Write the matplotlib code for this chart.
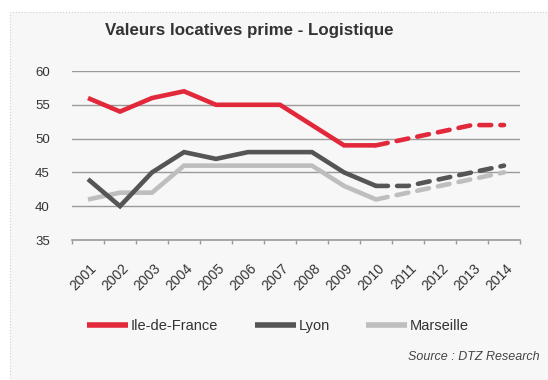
import matplotlib.pyplot as plt
from matplotlib.patches import Rectangle
import numpy as np

plt.rcParams['font.family'] = ['Liberation Sans', 'DejaVu Sans']

# Prime rents, logistics (EUR / m2 / year), 2011-2014 forecast
years = ['2001', '2002', '2003', '2004', '2005', '2006', '2007',
         '2008', '2009', '2010', '2011', '2012', '2013', '2014']
idf = [56, 54, 56, 57, 55, 55, 55, 52, 49, 49, 50, 51, 52, 52]
lyon = [44, 40, 45, 48, 47, 48, 48, 48, 45, 43, 43, 44, 45, 46]
marseille = [41, 42, 42, 46, 46, 46, 46, 46, 43, 41, 42, 43, 44, 45]
last_actual = 9  # index of 2010, forecast begins after

series = [
    ('Ile-de-France', idf, '#e2293b'),
    ('Lyon', lyon, '#555555'),
    ('Marseille', marseille, '#bebebe'),
]

fig = plt.figure(figsize=(5.48, 3.8), dpi=100)
fig.patch.set_facecolor('white')

# panel background with dotted border
panel = Rectangle((10 / 548, 0), 1, 1 - 12 / 380, transform=fig.transFigure,
                  facecolor='#f7f7f7', edgecolor='#cfcfcf', linestyle=':',
                  linewidth=0.8, zorder=-5)
fig.patches.append(panel)

ax = fig.add_axes([72 / 548, 1 - 240 / 380, 448 / 548, 169 / 380])
ax.set_zorder(2)
ax.set_facecolor('#f7f7f7')

x = np.arange(len(years))
for name, vals, color in series[::-1]:
    ax.plot(x[:last_actual + 1], vals[:last_actual + 1], color=color, lw=3.3,
            solid_capstyle='butt', solid_joinstyle='miter', zorder=3)
    ax.plot(x[last_actual:], vals[last_actual:], color=color, lw=3.3,
            dashes=(2.6, 2.0), dash_capstyle='round', zorder=3)

ax.set_xlim(-0.5, len(years) - 0.5)
ax.set_ylim(35, 60)
ax.set_yticks(range(35, 61, 5))
for yv in range(40, 61, 5):
    ax.axhline(yv, color='#9a9a9a', lw=1.0, zorder=1)

for side in ['top', 'right', 'left']:
    ax.spines[side].set_visible(False)
ax.spines['bottom'].set_color('#9a9a9a')
ax.spines['bottom'].set_linewidth(1.2)

ax.set_xticks(np.append(x - 0.5, len(years) - 0.5), minor=False)
ax.set_xticks(x + 0.05, minor=True)
ax.set_xticklabels([''] * (len(years) + 1))
ax.set_xticklabels(years, minor=True, rotation=45, ha='right', va='top',
                   rotation_mode='anchor', fontsize=10, color='#333333')
ax.tick_params(axis='x', which='major', length=3, color='#9a9a9a', width=1)
ax.tick_params(axis='x', which='minor', length=0, pad=15)
ax.tick_params(axis='y', length=0, labelsize=9.5, labelcolor='#333333',
               pad=16)

fig.text(105 / 548, 1 - 30 / 380, 'Valeurs locatives prime - Logistique',
         fontsize=12.2, fontweight='bold', color='#333333', va='center')

handles = [plt.Line2D([], [], color=c, lw=4, solid_capstyle='butt')
           for _, _, c in series]
leg = fig.legend(handles, [n for n, _, _ in series], loc='center left',
                 bbox_to_anchor=(74 / 548, 1 - 326 / 380), ncol=3,
                 frameon=False, handlelength=2.8, handletextpad=0.2,
                 columnspacing=2.5, fontsize=10.5, labelcolor='#333333')

fig.text(540 / 548, 1 - 357 / 380, 'Source : DTZ Research', fontsize=9,
         style='italic', color='#444444', ha='right', va='center')

fig.savefig('out.png', dpi=100, facecolor=fig.get_facecolor())
